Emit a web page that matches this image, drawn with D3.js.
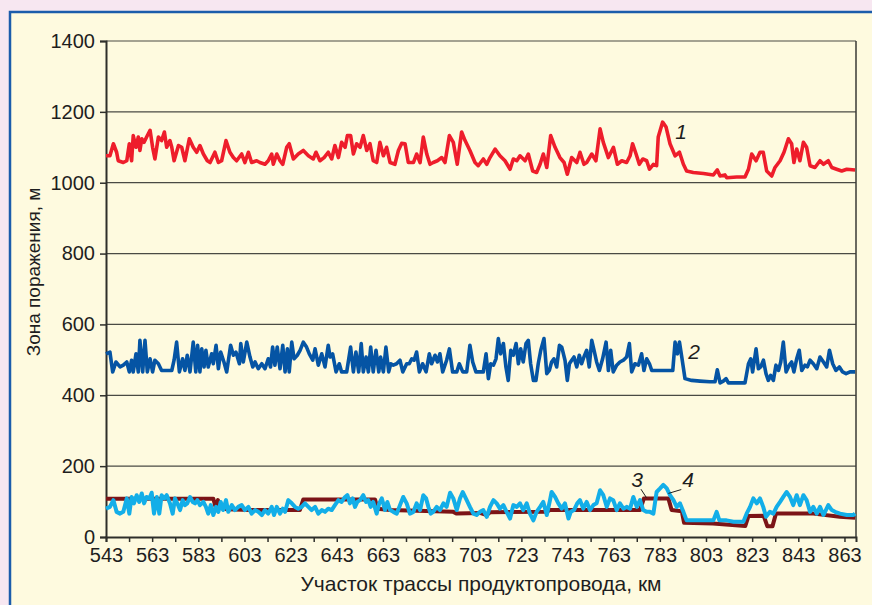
<!DOCTYPE html>
<html>
<head>
<meta charset="utf-8">
<script src="https://cdn.jsdelivr.net/npm/d3@7"></script>
<style>
  html, body { margin: 0; padding: 0; background: #f7e7f1; }
  svg { display: block; font-family: "Liberation Sans", Arial, sans-serif; }
</style>
</head>
<body>
<div id="chart"></div>
<script>
// Зона поражения по участкам трассы, [км, м]
const zone1 = [[543.0,1076],[544.7,1076],[546.2,1110],[547.6,1086],[548.3,1062],[550.5,1057],[552.0,1062],[553.1,1110],[554.1,1062],[554.8,1133],[556.0,1100],[557.0,1129],[557.7,1091],[558.5,1124],[559.5,1114],[560.6,1129],[562.1,1148],[563.2,1100],[564.2,1067],[565.7,1129],[567.1,1119],[568.3,1143],[569.3,1100],[570.7,1119],[571.5,1100],[572.5,1062],[574.4,1105],[575.8,1100],[577.2,1062],[579.1,1124],[580.8,1100],[582.3,1086],[583.7,1105],[585.2,1081],[586.9,1062],[588.1,1057],[590.2,1086],[591.7,1057],[593.1,1062],[595.0,1119],[596.7,1086],[598.2,1071],[599.6,1062],[601.8,1081],[603.2,1057],[604.7,1086],[606.1,1057],[608.3,1062],[609.7,1057],[611.9,1052],[613.3,1062],[614.8,1081],[615.5,1052],[617.0,1081],[618.4,1062],[619.6,1052],[621.3,1100],[622.4,1110],[624.2,1067],[626.3,1081],[628.5,1091],[630.7,1076],[632.8,1067],[634.0,1086],[635.7,1062],[637.5,1071],[639.3,1086],[640.8,1067],[642.2,1105],[643.7,1071],[645.1,1114],[646.6,1100],[647.6,1133],[649.0,1133],[650.2,1081],[651.6,1110],[653.1,1100],[654.5,1133],[656.0,1091],[657.4,1110],[658.8,1062],[660.3,1057],[661.7,1114],[663.2,1076],[664.6,1100],[666.1,1057],[668.2,1052],[669.7,1091],[671.1,1111],[672.6,1110],[674.0,1057],[676.2,1057],[677.6,1081],[679.1,1057],[680.5,1129],[682.0,1081],[683.4,1052],[684.8,1057],[686.6,1062],[688.5,1071],[689.9,1057],[691.8,1133],[693.5,1114],[695.2,1052],[697.1,1143],[698.6,1119],[700.7,1091],[702.9,1057],[704.3,1048],[706.5,1067],[708.0,1052],[709.4,1071],[711.6,1095],[713.7,1076],[715.9,1062],[718.1,1038],[719.5,1067],[721.0,1062],[722.4,1076],[724.6,1062],[726.0,1081],[727.9,1033],[729.6,1029],[731.1,1052],[732.5,1081],[734.0,1043],[735.7,1133],[737.6,1100],[739.7,1071],[741.5,1057],[742.9,1024],[744.8,1071],[747.0,1057],[748.4,1086],[750.1,1052],[751.3,1057],[753.5,1081],[755.3,1062],[757.1,1152],[758.5,1114],[760.7,1071],[762.9,1100],[764.6,1052],[766.5,1062],[768.6,1057],[770.1,1076],[771.2,1110],[772.7,1081],[774.1,1052],[775.6,1067],[777.3,1062],[778.5,1038],[780.2,1052],[781.6,1048],[782.3,1129],[784.2,1171],[785.7,1157],[787.4,1110],[789.6,1076],[791.5,1086],[793.2,1052],[794.6,1033],[797.5,1029],[801.9,1026],[806.2,1022],[807.9,1036],[809.1,1019],[811.2,1022],[812.0,1014],[816.3,1016],[819.9,1016],[821.4,1038],[822.8,1081],[824.7,1062],[826.4,1086],[827.8,1086],[829.3,1033],[831.5,1019],[832.9,1043],[835.1,1062],[836.8,1086],[838.7,1124],[840.1,1110],[841.1,1057],[842.3,1095],[843.7,1062],[845.2,1114],[846.6,1100],[848.1,1048],[850.2,1043],[852.4,1062],[853.9,1052],[856.0,1062],[857.5,1043],[859.6,1038],[861.8,1033],[864.0,1038],[867.6,1036]];

const zone2 = [[543.0,517],[544.7,522],[545.9,466],[547.3,494],[549.1,480],[550.5,485],[552.0,494],[553.1,466],[554.1,499],[554.8,466],[556.0,517],[557.0,466],[557.7,555],[558.9,466],[559.9,555],[560.9,466],[562.1,503],[563.2,466],[564.2,499],[565.7,489],[567.1,470],[571.5,470],[572.5,499],[573.6,550],[574.8,466],[576.2,503],[577.2,470],[578.2,513],[579.4,466],[580.8,550],[581.9,466],[582.7,541],[583.7,466],[584.5,531],[585.5,480],[586.3,527],[587.3,480],[588.8,517],[589.5,489],[590.7,541],[591.7,475],[592.7,522],[594.1,494],[595.3,466],[597.0,541],[598.2,513],[599.3,522],[600.8,489],[601.4,546],[602.5,494],[604.0,550],[605.4,508],[606.6,480],[607.6,494],[609.0,475],[610.5,489],[611.9,475],[613.3,503],[614.3,480],[615.2,536],[616.2,485],[617.2,536],[618.4,475],[619.6,541],[620.6,466],[621.6,531],[622.4,466],[623.5,550],[624.5,503],[625.9,513],[627.1,527],[628.5,550],[629.9,536],[631.1,517],[632.6,499],[633.6,531],[635.0,485],[636.5,517],[637.9,480],[639.3,541],[640.1,508],[641.2,517],[642.7,466],[644.1,489],[645.1,466],[647.3,466],[649.0,536],[650.2,466],[651.3,522],[652.5,466],[653.6,546],[654.5,466],[655.7,508],[656.7,466],[657.7,536],[658.8,466],[660.0,527],[661.2,466],[662.0,508],[663.2,466],[664.3,536],[665.5,466],[666.4,489],[667.5,485],[668.9,489],[670.4,499],[671.6,466],[673.3,489],[674.4,489],[675.5,503],[676.5,499],[677.6,522],[678.8,466],[680.2,489],[681.7,466],[683.1,517],[684.1,489],[685.6,513],[686.6,494],[687.7,517],[688.9,466],[690.6,499],[691.8,531],[693.2,466],[695.0,466],[696.1,489],[697.6,466],[699.3,466],[700.7,541],[701.9,494],[703.3,466],[706.5,466],[707.7,517],[708.7,447],[709.7,489],[710.9,485],[712.0,503],[713.0,560],[714.0,517],[715.2,546],[716.3,480],[717.3,442],[718.4,527],[719.5,513],[720.7,546],[721.7,489],[722.7,531],[723.8,494],[725.0,546],[726.0,555],[727.0,489],[728.2,442],[729.3,442],[730.3,489],[731.4,527],[732.8,560],[734.0,461],[735.1,470],[736.1,494],[737.1,503],[738.3,480],[739.5,541],[740.5,536],[741.9,499],[742.9,442],[743.8,489],[744.8,499],[745.8,508],[747.0,480],[748.1,513],[749.1,489],[750.1,508],[751.3,527],[752.4,480],[753.5,555],[754.5,527],[755.6,494],[756.8,470],[758.2,503],[759.7,550],[760.7,470],[761.7,527],[762.8,466],[764.3,485],[765.7,494],[767.2,499],[768.6,508],[769.8,546],[770.8,466],[772.2,489],[773.7,485],[775.1,517],[776.1,470],[777.3,503],[778.5,489],[779.5,470],[780.9,470],[783.1,470],[786.0,470],[788.6,470],[789.6,550],[790.6,517],[791.5,550],[792.5,508],[793.9,447],[796.8,442],[800.4,440],[804.7,438],[806.9,438],[807.9,472],[809.1,435],[810.5,440],[811.7,447],[812.7,435],[816.3,435],[819.9,435],[821.4,489],[822.4,503],[823.2,466],[824.7,531],[825.7,475],[826.7,480],[827.9,499],[829.0,461],[830.0,442],[831.0,456],[832.2,442],[833.3,485],[834.4,470],[835.4,494],[836.5,550],[837.7,466],[839.1,485],[840.1,494],[841.1,466],[842.3,503],[843.4,527],[844.5,470],[845.9,485],[846.9,480],[848.1,499],[849.5,489],[851.0,475],[852.4,508],[853.9,494],[855.3,480],[856.5,527],[857.9,489],[859.3,470],[860.8,480],[862.2,466],[863.7,461],[865.4,466],[867.6,466]];

const zone3 = [[543.0,108],[589.5,108],[590.5,85],[591.5,104],[592.5,82],[595.3,78],[605.4,76],[627.0,76],[628.5,106],[659.6,106],[660.6,80],[666.0,76],[693.5,71],[695.0,66],[705.0,68],[708.0,62],[709.5,70],[734.0,71],[735.4,76],[774.4,76],[776.1,109],[786.7,109],[788.1,76],[792.5,73],[793.5,40],[806.0,38],[820.0,31],[821.4,59],[828.0,60],[829.6,30],[831.8,30],[833.3,66],[849.5,66],[861.0,57],[867.6,54]];

const zone4 = [[543.0,80],[544.7,85],[546.2,104],[547.6,71],[549.1,66],[550.5,71],[552.0,109],[553.1,66],[554.1,113],[555.1,95],[556.3,118],[557.4,99],[558.5,123],[559.5,95],[560.6,113],[561.8,109],[562.8,125],[563.8,66],[565.0,113],[566.1,66],[567.1,118],[568.3,109],[569.3,118],[570.7,95],[571.9,66],[572.9,109],[573.9,95],[575.1,76],[576.2,104],[577.2,90],[578.2,95],[579.4,113],[580.6,99],[581.6,95],[582.6,104],[583.7,90],[585.2,99],[586.3,85],[587.3,66],[588.4,90],[589.5,62],[590.7,85],[591.7,71],[592.7,99],[593.8,76],[595.0,104],[596.0,71],[597.5,90],[598.9,76],[600.3,85],[601.8,90],[603.2,76],[604.7,85],[606.1,66],[607.6,76],[609.0,71],[610.5,62],[611.9,76],[613.3,66],[614.8,85],[615.8,62],[617.0,85],[618.4,66],[619.6,80],[620.6,71],[622.0,104],[623.5,95],[624.9,85],[626.3,80],[627.8,85],[629.2,95],[630.7,85],[632.1,76],[633.6,85],[635.0,66],[636.5,76],[637.9,71],[639.3,80],[640.8,76],[642.2,90],[643.7,104],[645.1,99],[646.6,113],[647.6,118],[648.7,95],[649.9,109],[650.9,85],[651.9,99],[653.1,104],[654.5,118],[655.7,99],[656.7,104],[657.7,85],[658.8,99],[660.3,66],[661.4,95],[662.5,109],[663.9,76],[664.9,99],[666.1,76],[667.5,71],[669.0,66],[670.4,90],[671.8,113],[673.3,95],[674.7,66],[676.2,71],[677.6,95],[679.1,76],[680.5,118],[681.7,109],[682.7,85],[683.7,66],[684.8,71],[686.3,85],[687.7,76],[689.2,95],[690.6,85],[692.1,125],[693.5,109],[695.0,76],[696.4,109],[697.6,127],[699.3,104],[700.7,85],[702.2,66],[703.6,62],[705.1,71],[706.5,76],[708.0,57],[709.4,85],[710.9,104],[712.3,95],[713.7,80],[715.2,90],[716.6,71],[718.1,52],[719.5,90],[721.0,85],[722.4,95],[723.8,76],[725.3,95],[726.7,66],[728.2,47],[729.6,71],[731.1,85],[732.5,99],[734.0,62],[735.4,104],[736.1,127],[737.6,113],[739.0,95],[740.5,80],[741.9,95],[743.4,52],[744.4,71],[745.8,76],[747.2,95],[748.4,104],[749.8,80],[751.3,99],[752.7,76],[754.2,90],[755.6,95],[757.1,132],[758.5,118],[760.0,85],[761.4,109],[762.8,104],[764.3,76],[765.7,95],[767.2,80],[768.6,85],[770.1,80],[771.5,113],[773.0,85],[774.4,104],[775.8,76],[777.3,71],[778.7,71],[780.2,66],[781.6,127],[783.1,137],[784.5,147],[786.0,137],[787.4,118],[788.9,104],[790.3,85],[791.7,95],[793.2,71],[794.6,47],[797.5,47],[801.9,47],[806.2,47],[807.6,71],[808.8,47],[811.9,47],[814.9,43],[819.2,43],[820.6,66],[822.1,85],[823.5,109],[825.0,95],[826.4,109],[827.8,85],[829.0,57],[830.7,71],[832.2,66],[833.6,85],[835.1,99],[836.5,113],[837.9,127],[839.4,113],[840.8,90],[842.3,118],[843.7,90],[845.2,118],[846.6,104],[848.1,71],[849.5,85],[851.0,66],[852.4,85],[853.9,62],[856.0,90],[857.5,76],[858.9,71],[861.1,66],[864.0,62],[866.9,62],[867.6,66]];

const yTicks = [0, 200, 400, 600, 800, 1000, 1200, 1400];
const xTickLabels = [543, 563, 583, 603, 623, 643, 663, 683, 703, 723, 743, 763, 783, 803, 823, 843, 863];
const xMinorTicks = [553, 573, 593, 613, 633, 653, 673, 693, 713, 733, 753, 773, 793, 813, 833, 853];

const width = 872, height = 605;
const margin = { top: 41, right: 16, bottom: 68, left: 106 };

const svg = d3.select('#chart').append('svg')
  .attr('width', width)
  .attr('height', height);

// рамка фона
svg.append('rect').attr('x', 0).attr('y', 0).attr('width', width).attr('height', height).attr('fill', '#f7e7f1');
svg.append('rect').attr('x', 10).attr('y', 12).attr('width', width).attr('height', height)
  .attr('fill', '#fefadf').attr('stroke', '#1b5cab').attr('stroke-width', 2.5);

const x = d3.scaleLinear().domain([543, 868]).range([margin.left, width - margin.right]);
const y = d3.scaleLinear().domain([0, 1400]).range([height - margin.bottom, margin.top]);

// сетка
svg.append('g')
  .selectAll('line')
  .data(yTicks.filter(d => d > 0))
  .enter().append('line')
  .attr('x1', x.range()[0]).attr('x2', x.range()[1])
  .attr('y1', d => y(d)).attr('y2', d => y(d))
  .attr('stroke', '#4a4a44').attr('stroke-width', 1.2);

// правая граница
svg.append('line')
  .attr('x1', x.range()[1]).attr('x2', x.range()[1])
  .attr('y1', y(1400)).attr('y2', y(0))
  .attr('stroke', '#3a3a36').attr('stroke-width', 1.5);

const yAxis = svg.append('g')
  .attr('transform', `translate(${margin.left},0)`)
  .call(d3.axisLeft(y).tickValues(yTicks).tickSize(6).tickPadding(5).tickFormat(d3.format('d')));

const xAxis = svg.append('g')
  .attr('transform', `translate(0,${y(0)})`)
  .call(d3.axisBottom(x).tickValues(xTickLabels).tickSize(5).tickPadding(6).tickFormat(d3.format('d')));

svg.append('g')
  .attr('transform', `translate(0,${y(0)})`)
  .call(d3.axisBottom(x).tickValues(xMinorTicks).tickSize(5).tickFormat(''))
  .call(g => g.select('.domain').remove());

svg.selectAll('.domain').attr('stroke', '#2e2e2a').attr('stroke-width', 2);
svg.selectAll('.tick line').attr('stroke', '#2e2e2a').attr('stroke-width', 1.5);
svg.selectAll('.tick text').attr('fill', '#1e1e1e').attr('font-size', '20px')
  .attr('font-family', '"Liberation Sans", Arial, sans-serif');

const line = d3.line().x(d => x(d[0])).y(d => y(d[1]));

const series = [
  { data: zone1, color: '#ee1d2b', w: 3.6 },
  { data: zone2, color: '#0554a4', w: 3.6 },
  { data: zone3, color: '#7c1417', w: 4 },
  { data: zone4, color: '#13aee8', w: 4 }
];

svg.append('g').selectAll('path')
  .data(series)
  .enter().append('path')
  .attr('d', d => line(d.data))
  .attr('fill', 'none')
  .attr('stroke', d => d.color)
  .attr('stroke-width', d => d.w)
  .attr('stroke-linejoin', 'round');

// подписи кривых
const labels = [
  { t: '1', km: 792.2, v: 1123 },
  { t: '2', km: 797.8, v: 502 },
  { t: '3', km: 773.1, v: 141 },
  { t: '4', km: 795.2, v: 141 }
];
svg.append('g').selectAll('text')
  .data(labels)
  .enter().append('text')
  .attr('x', d => x(d.km)).attr('y', d => y(d.v))
  .attr('text-anchor', 'middle')
  .attr('font-size', '21px').attr('font-style', 'italic')
  .attr('fill', '#1e1e1e')
  .text(d => d.t);

const leaders = [
  [[774.8, 135], [777.2, 111]],
  [[792.3, 134], [786.7, 123]]
];
svg.append('g').selectAll('path')
  .data(leaders)
  .enter().append('path')
  .attr('d', d => line(d))
  .attr('stroke', '#1e1e1e').attr('stroke-width', 1).attr('fill', 'none');

// подписи осей
svg.append('text')
  .attr('x', (x.range()[0] + x.range()[1]) / 2)
  .attr('y', 591)
  .attr('text-anchor', 'middle')
  .attr('font-size', '21px').attr('fill', '#1e1e1e')
  .text('Участок трассы продуктопровода, км');

svg.append('text')
  .attr('transform', `translate(40,${272}) rotate(-90)`)
  .attr('text-anchor', 'middle')
  .attr('font-size', '19px').attr('fill', '#1e1e1e')
  .text('Зона поражения, м');
</script>
</body>
</html>
